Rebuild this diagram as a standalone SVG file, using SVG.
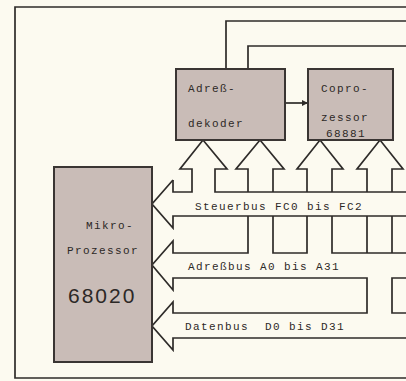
<svg xmlns="http://www.w3.org/2000/svg" width="406" height="381" viewBox="0 0 406 381">
<defs>
<style>
.bg{fill:#fcfaf0}
.box{fill:#c9bcb7;stroke:#3a3533;stroke-width:2}
.ln{fill:none;stroke:#2e2b29;stroke-width:1.7;stroke-linejoin:miter}
.t{font-family:"Liberation Mono","DejaVu Sans Mono",monospace;font-size:11px;letter-spacing:1.4px;fill:#2c2826;white-space:pre}
.big{font-family:"Liberation Sans","Noto Sans",sans-serif;font-size:21px;letter-spacing:2px;fill:#2c2826}
</style>
<marker id="ah" viewBox="0 0 10 10" refX="10" refY="5" markerWidth="8" markerHeight="6" markerUnits="userSpaceOnUse" orient="auto">
<path d="M0,0 L10,5 L0,10 z" fill="#2e2b29"/>
</marker>
</defs>
<rect class="bg" x="0" y="0" width="406" height="381"/>
<g id="connectors">
<path class="ln" d="M406,7 H15 V378 H406"/>
<path class="ln" d="M226,69 V21 H406"/>
<path class="ln" d="M248,69 V46 H406"/>
<line class="ln" x1="285" y1="103" x2="308" y2="103" marker-end="url(#ah)"/>
<path class="ln" d="M173,180 V192 H192 V169 H180 L203,140 L227,169 H215 V192 H406"/>
<path class="ln" d="M248,192 V169 H236 L260,140 L284,169 H273 V192"/>
<path class="ln" d="M307,192 V169 H297 L320,140 L343,169 H332 V192"/>
<path class="ln" d="M367,192 V169 H357 L380,140 L403,169 H392 V192"/>
<path class="ln" d="M173,180 L152,204 L173,228 V216 H406"/>
<path class="ln" d="M406,253 H332 V216 M307,216 V253 H273 V216 M248,216 V253 H173 V241 L152,265 L173,290 V278 H367 V313 H173 V302 L152,326 L173,350 V338 H406"/>
<path class="ln" d="M367,216 V253 M392,216 V253"/>
<path class="ln" d="M406,278 H392 V313 H406"/>
</g>
<g id="adressdekoder">
<rect class="box" x="176" y="69" width="109" height="71"/>
<text class="t" x="188" y="92">Adreß-</text>
<text class="t" x="188" y="127">dekoder</text>
</g>
<g id="coprozessor">
<rect class="box" x="308" y="69" width="85" height="71"/>
<text class="t" x="321" y="92">Copro-</text>
<text class="t" x="321" y="121">zessor</text>
<text class="t" x="326" y="137">68881</text>
</g>
<g id="mikroprozessor">
<rect class="box" x="54" y="167" width="98" height="195"/>
<text class="t" x="86" y="229">Mikro-</text>
<text class="t" x="67" y="254">Prozessor</text>
<text class="big" x="68" y="303">68020</text>
</g>
<g id="labels">
<text class="t" x="195" y="210">Steuerbus FC0 bis FC2</text>
<text class="t" x="188" y="270">Adreßbus A0 bis A31</text>
<text class="t" x="185" y="330">Datenbus  D0 bis D31</text>
</g>
</svg>
